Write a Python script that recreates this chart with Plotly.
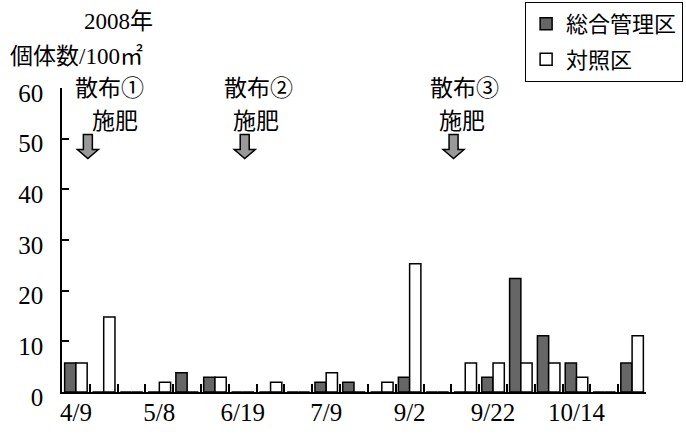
import plotly.graph_objects as go

# ---- data ----
sample_index = list(range(21))          # 21 sampling occasions
tick_pos = [0, 3, 6, 9, 12, 15, 18]
tick_labels = ["4/9", "5/8", "6/19", "7/9", "9/2", "9/22", "10/14"]
sogo = [5.7, 0, 0, 0, 3.8, 2.9, 0, 0, 0, 1.9, 1.9, 0, 2.9, 0, 0, 2.9, 22.4, 11.1, 5.7, 0, 5.7]
taisho = [5.7, 14.8, 0, 1.9, 0, 2.9, 0, 1.9, 0, 3.8, 0, 1.9, 25.3, 0, 5.7, 5.7, 5.7, 5.7, 2.9, 0, 11.1]
event_pos = [0.43, 6.07, 13.58]
event_labels = ["散布①", "散布②", "散布③"]
event_text_dx = [0.77, 0.49, 0.40]
hiryo_text_dx = [0.99, 0.40, 0.29]

boundaries = [i - 0.5 for i in range(len(sample_index) + 1)]

SERIF = "Liberation Serif, Noto Sans CJK JP, serif"
CJK = "Noto Sans CJK JP, sans-serif"

fig = go.Figure()
fig.add_trace(go.Bar(x=sample_index, y=sogo, name="総合管理区",
                     marker=dict(color="#666666", line=dict(color="black", width=1.5)),
                     legendgroup="a"))
fig.add_trace(go.Bar(x=sample_index, y=taisho, name="対照区",
                     marker=dict(color="white", line=dict(color="black", width=1.5)),
                     legendgroup="b"))
# carrier for the date-label axis
fig.add_trace(go.Scatter(x=sample_index, y=[None] * len(sample_index), xaxis="x2",
                         mode="markers", showlegend=False, hoverinfo="skip"))

annotations = []
shapes = []
for xp, lab, d1, d2 in zip(event_pos, event_labels, event_text_dx, hiryo_text_dx):
    annotations.append(dict(x=xp + d1, y=1.006, xref="x", yref="paper", text=lab,
                            xanchor="center", yanchor="middle",
                            showarrow=False, font=dict(family=CJK, size=23, color="black")))
    annotations.append(dict(x=xp + d2, y=53.8, xref="x", yref="y", text="施肥",
                            xanchor="center", yanchor="middle",
                            showarrow=False, font=dict(family=CJK, size=23, color="black")))
    shapes.append(dict(type="path", xref="x", yref="y", xsizemode="pixel", ysizemode="pixel",
                       xanchor=xp, yanchor=50.8,
                       path="M-4.5,0 L4.5,0 L4.5,-15 L10.5,-15 L0,-24 L-10.5,-15 L-4.5,-15 Z",
                       fillcolor="#999999", line=dict(color="black", width=1.5)))

annotations.append(dict(x=0.159, y=1.220, xref="paper", yref="paper", text="2008年",
                        xanchor="right", yanchor="middle",
                        showarrow=False, font=dict(family=SERIF, size=23, color="black")))
annotations.append(dict(x=-0.092, y=1.102, xref="paper", yref="paper",
                        xanchor="left", yanchor="middle",
                        text="個体数/100㎡", showarrow=False,
                        font=dict(family=SERIF, size=23, color="black")))

fig.update_layout(
    width=686, height=443,
    margin=dict(l=62, r=40, t=88, b=51, autoexpand=False),
    paper_bgcolor="white", plot_bgcolor="white",
    barmode="group", bargap=0.19, bargroupgap=0,
    showlegend=True,
    legend=dict(x=0.793, y=1.283, xanchor="left", yanchor="top",
                bordercolor="black", borderwidth=1, bgcolor="white",
                font=dict(family=CJK, size=22, color="black"),
                tracegroupgap=4, itemwidth=30),
    annotations=annotations, shapes=shapes,
    xaxis=dict(range=[-0.5, 20.5], tickmode="array", tickvals=boundaries,
               ticks="inside", ticklen=8, tickwidth=2, tickcolor="black",
               showticklabels=False, showline=True, linecolor="black", linewidth=1.5,
               showgrid=False, zeroline=False, layer="above traces"),
    xaxis2=dict(overlaying="x", anchor="y", side="bottom", range=[-0.5, 20.5],
                tickmode="array", tickvals=tick_pos, ticktext=tick_labels,
                ticks="", showline=False, showgrid=False, zeroline=False, tickangle=0,
                ticklabelstandoff=3,
                tickfont=dict(family=SERIF, size=25, color="black")),
    yaxis=dict(range=[0, 60], dtick=10, ticks="inside", ticklen=7, tickwidth=1.5,
               tickcolor="black", showline=True, linecolor="black", linewidth=1.5,
               showgrid=False, zeroline=False, ticklabelstandoff=12, ticklabelshift=5,
               tickfont=dict(family=SERIF, size=25, color="black")),
)

fig.write_html("out.html", config={"displayModeBar": False},
               post_script="document.body.style.margin='0';document.body.style.padding='0';")
